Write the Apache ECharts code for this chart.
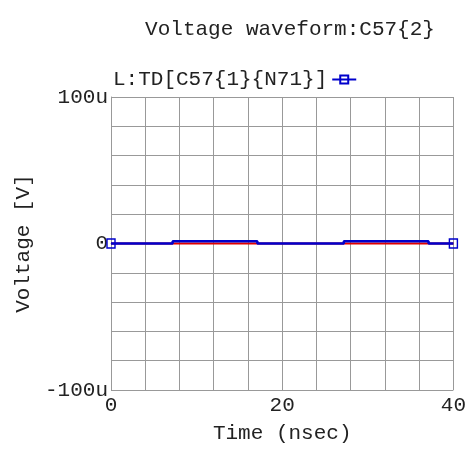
<!DOCTYPE html>
<html>
<head>
<meta charset="utf-8">
<script src="https://cdn.jsdelivr.net/npm/echarts@6/dist/echarts.min.js"></script>
<style>
  html, body { margin: 0; padding: 0; background: #fff; }
  #chart { width: 469px; height: 449px; }
</style>
</head>
<body>
<div id="chart"></div>
<script>
// Time axis in nanoseconds, voltages in microvolts (shown with a "u" suffix)
const timeNs      = [0, 7.2, 7.2, 17.1, 17.1, 27.2, 27.2, 37.1, 37.1, 40];
const probeUv     = [0, 0,   1.5, 1.5,  0,    0,    1.5,  1.5,  0,    0];
const refTimeNs   = [0, 40];
const refUv       = [0, 0];
const yTickLabels = { '100': '100u', '0': '0', '-100': '-100u' };
const xTickLabels = ['0', '20', '40'];

const FONT = '"Liberation Mono", "DejaVu Sans Mono", monospace';
const BLUE = '#0000cc';
const RED = '#e00000';

// only the first and last samples carry a marker
const probeData = timeNs.map((t, i) => {
  const endPoint = i === 0 || i === timeNs.length - 1;
  return { value: [t, probeUv[i]], symbolSize: endPoint ? [8, 9] : 0 };
});
const refData = refTimeNs.map((t, i) => [t, refUv[i]]);

const chart = echarts.init(document.getElementById('chart'), null, { renderer: 'canvas' });
chart.setOption({
  animation: false,
  backgroundColor: '#fff',
  title: {
    text: 'Voltage waveform:C57{2}',
    left: 285, top: 14, textAlign: 'center',
    textStyle: { fontFamily: FONT, fontSize: 21, fontWeight: 'normal', color: '#222' }
  },
  legend: {
    data: ['L:TD[C57{1}{N71}]'],
    left: 108, top: 64,
    itemWidth: 24, itemHeight: 10, itemGap: 2,
    align: 'right',
    textStyle: { fontFamily: FONT, fontSize: 21, color: '#222', padding: [0, 0, 0, 0] }
  },
  grid: { left: 111, right: 14, top: 97, bottom: 56, containLabel: false },
  xAxis: {
    type: 'value', min: 0, max: 40, interval: 4,
    name: 'Time (nsec)', nameLocation: 'middle', nameGap: 33,
    nameTextStyle: { fontFamily: FONT, fontSize: 21, color: '#222' },
    axisLine: { show: true, lineStyle: { color: '#999', width: 1 } },
    axisTick: { show: false },
    splitLine: { show: true, lineStyle: { color: '#999', width: 1 } },
    axisLabel: {
      fontFamily: FONT, fontSize: 21, color: '#222', margin: 5,
      formatter: v => xTickLabels.includes(String(v)) ? String(v) : ''
    }
  },
  yAxis: {
    type: 'value', min: -100, max: 100, interval: 20,
    name: 'Voltage [V]', nameLocation: 'middle', nameGap: 66, nameRotate: 90,
    nameTextStyle: { fontFamily: FONT, fontSize: 21, color: '#222' },
    axisLine: { show: true, lineStyle: { color: '#999', width: 1 } },
    axisTick: { show: false },
    splitLine: { show: true, lineStyle: { color: '#999', width: 1 } },
    axisLabel: {
      fontFamily: FONT, fontSize: 21, color: '#222', margin: 3,
      formatter: v => yTickLabels[String(v)] || ''
    }
  },
  series: [
    {
      name: 'ref',
      type: 'line',
      data: refData,
      symbol: 'none',
      lineStyle: { color: RED, width: 2 },
      z: 2
    },
    {
      name: 'L:TD[C57{1}{N71}]',
      type: 'line',
      data: probeData,
      symbol: 'rect',
      itemStyle: { color: 'rgba(255,255,255,0)', borderColor: BLUE, borderWidth: 1.5 },
      lineStyle: { color: BLUE, width: 2.5 },
      z: 3
    }
  ]
});
</script>
</body>
</html>
